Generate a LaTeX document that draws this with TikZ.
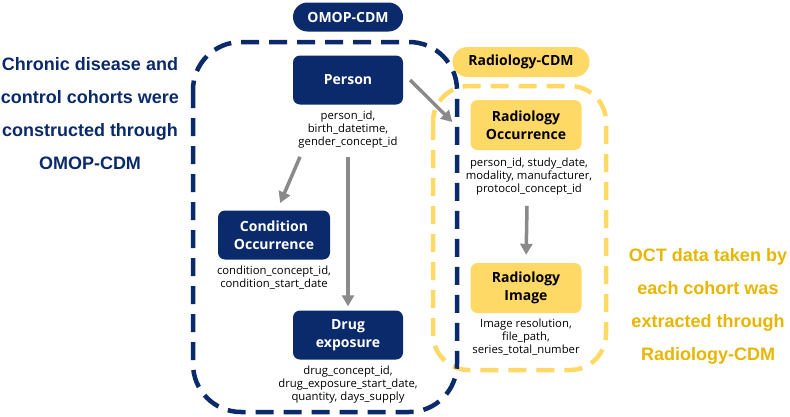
\documentclass[tikz,border=0pt]{standalone}
\usepackage{fontspec}
\setmainfont{Open Sans}
\newfontfamily\arialfont{Liberation Sans}
\usetikzlibrary{arrows.meta}
\definecolor{navy}{HTML}{0B2A6B}
\definecolor{ylw}{HTML}{FFD966}
\definecolor{gold}{HTML}{E8B500}
\definecolor{arrgray}{HTML}{8A8A8A}
\tikzset{
  x=1pt,y=-1pt,
  navybox/.style={fill=navy,text=white,rounded corners=7pt,minimum width=111pt,minimum height=49pt,align=center,font=\fontsize{14}{18}\selectfont\bfseries,inner sep=0pt},
  ylwbox/.style={fill=ylw,text=black,rounded corners=7pt,minimum width=111pt,minimum height=50pt,align=center,font=\fontsize{14}{18}\selectfont\bfseries,inner sep=0pt},
  attr/.style={align=center,font=\fontsize{11.3}{13}\selectfont,inner sep=0pt},
  pill/.style={rounded corners=14.5pt,minimum height=29pt,align=center,font=\fontsize{14}{16}\selectfont\bfseries,inner sep=0pt},
  dashbox/.style={line width=4.5pt,dash pattern=on 18pt off 10pt,rounded corners=48pt},
  arr/.style={draw=arrgray,line width=3.5pt,-{Triangle[length=11pt,width=12pt]}},
  sidetext/.style={align=center,font=\arialfont\fontsize{18}{33}\selectfont\bfseries,inner sep=0pt}
}
\begin{document}
\begin{tikzpicture}
\useasboundingbox (0,0) rectangle (790,416);
% dashed containers
\draw[dashbox,draw=ylw,rounded corners=36pt] (433,86) rectangle (606,370);
\draw[dashbox,draw=navy] (193,42) rectangle (457,412);
% labels
\node[pill,fill=navy,text=white,minimum width=110pt] (omop) at (348,17) {OMOP-CDM};
\node[pill,fill=ylw,text=black,minimum width=137pt,minimum height=30pt,rounded corners=15pt] (radcdm) at (521,62) {Radiology-CDM};
% OMOP nodes
\node[navybox,minimum width=110pt] (person) at (348,80) {Person};
\node[attr] (pattr) at (348,130) {person\_id,\\birth\_datetime,\\gender\_concept\_id};
\node[navybox,minimum width=112pt] (cond) at (274,235) {Condition\\Occurrence};
\node[attr] (cattr) at (274,278) {condition\_concept\_id,\\condition\_start\_date};
\node[navybox,minimum width=110pt] (drug) at (348,335) {Drug\\exposure};
\node[attr] (dattr) at (348,385) {drug\_concept\_id,\\drug\_exposure\_start\_date,\\quantity, days\_supply};
% Radiology nodes
\node[ylwbox] (rocc) at (526,125) {Radiology\\Occurrence};
\node[attr] (rattr) at (529,177) {person\_id, study\_date,\\modality, manufacturer,\\protocol\_concept\_id};
\node[ylwbox] (rimg) at (526,288) {Radiology\\Image};
\node[attr] (iattr) at (526,337) {Image resolution,\\file\_path,\\series\_total\_number};
% arrows
\draw[arr,shorten >=8pt] ([xshift=-48pt,yshift=-8pt]pattr.south) -- ([xshift=3pt]cond.north);
\draw[arr,shorten >=4pt] ([yshift=-8pt]pattr.south) -- (drug.north);
\draw[arr] ([xshift=7pt]person.east) -- ([shift={(-18pt,3pt)}]rocc.west);
\draw[arr,shorten >=8pt] ([xshift=-2pt,yshift=-10pt]rattr.south) -- (rimg.north);
% side texts
\node[sidetext,text=navy] (lefttxt) at (90,114) {Chronic disease and\\control cohorts were\\constructed through\\OMOP-CDM};
\node[sidetext,text=gold] (righttxt) at (708,306) {OCT data taken by\\each cohort was\\extracted through\\Radiology-CDM};
\end{tikzpicture}
\end{document}
